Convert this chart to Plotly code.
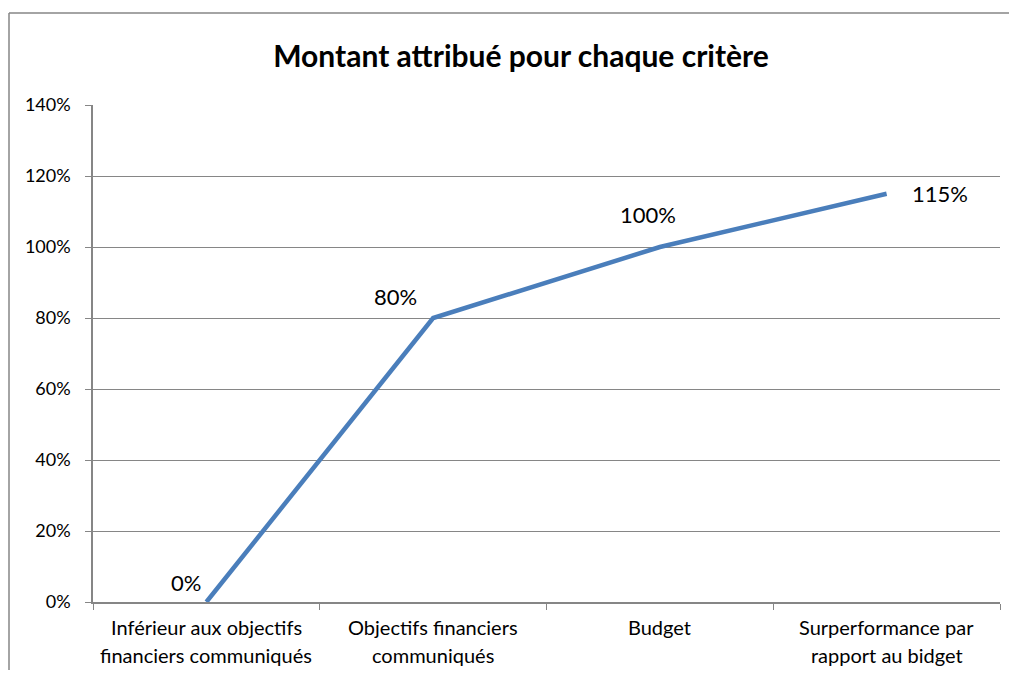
import plotly.graph_objects as go

categories = ["Inférieur aux objectifs financiers communiqués",
              "Objectifs financiers communiqués",
              "Budget",
              "Surperformance par rapport au bidget"]
label_lines = [("Inférieur aux objectifs", "financiers communiqués"),
               ("Objectifs financiers", "communiqués"),
               ("Budget", ""),
               ("Surperformance par", "rapport au bidget")]
values = [0.0, 0.80, 1.00, 1.15]
labels = ["0%", "80%", "100%", "115%"]
label_dx = [-20, -38, -12, 53]
label_dy = [20, 22, 33, 0]

OFF = 8  # page body offset
W, H = 1017 - 2 * OFF, 678 - 2 * OFF
L, T = 93 - OFF, 105 - OFF
PR, PB = 1000 - OFF, 602 - OFF
R, B = W - PR, H - PB
pw, ph = PR - L, PB - T

FONT = "Lato, Open Sans, sans-serif"

fig = go.Figure()
fig.add_trace(go.Scatter(
    x=categories, y=values, mode="lines",
    line=dict(color="#4A7EBB", width=4.5),
    cliponaxis=False, hoverinfo="skip", showlegend=False,
))
for c, v, t, dx, dy in zip(categories, values, labels, label_dx, label_dy):
    fig.add_annotation(x=c, y=v, text=t, showarrow=False, xshift=dx, yshift=dy,
                       font=dict(size=22, color="#000000", family=FONT))

# two-line category labels below the axis
for c, (l1, l2) in zip(categories, label_lines):
    for txt, ypx in ((l1, 627), (l2, 655)):
        if txt:
            fig.add_annotation(x=c, xref="x", y=(PB - (ypx - OFF)) / ph, yref="paper",
                               text=txt, showarrow=False, yanchor="middle",
                               font=dict(size=20, color="#000000", family=FONT))

def px2x(p):
    return (p - OFF - L) / pw

def py2y(p):
    return (PB - (p - OFF)) / ph

# chart frame (left and top edges visible in the reference)
border = dict(color="#868686", width=1.5)
fig.add_shape(type="line", xref="paper", yref="paper",
              x0=px2x(9), x1=px2x(9), y0=py2y(720), y1=py2y(13), line=border)
fig.add_shape(type="line", xref="paper", yref="paper",
              x0=px2x(9), x1=px2x(1060), y0=py2y(13), y1=py2y(13), line=border)

fig.update_layout(
    width=W, height=H,
    margin=dict(l=L, r=R, t=T, b=B),
    paper_bgcolor="white", plot_bgcolor="white",
    font=dict(family=FONT, color="#000000", size=18),
    title=dict(text="<b>Montant attribué pour chaque critère</b>",
               x=(521 - OFF) / W, xanchor="center", y=1 - (56 - OFF) / H, yanchor="middle",
               font=dict(size=30, color="#000000")),
    showlegend=False,
)
fig.update_xaxes(type="category", tickson="boundaries", ticks="outside", ticklen=6,
                 tickcolor="#868686", showgrid=False, showline=True,
                 linecolor="#868686", linewidth=1.5, showticklabels=False,
                 range=[-0.5, 3.5], fixedrange=True)
fig.update_yaxes(range=[0, 1.4], dtick=0.2, tickformat=".0%", ticks="outside",
                 ticklen=6, tickcolor="#868686", showgrid=True,
                 gridcolor="#868686", gridwidth=1, showline=True,
                 linecolor="#868686", linewidth=1.5, zeroline=False,
                 ticklabelstandoff=11,
                 tickfont=dict(size=18), fixedrange=True)

fig.write_html("out.html")
